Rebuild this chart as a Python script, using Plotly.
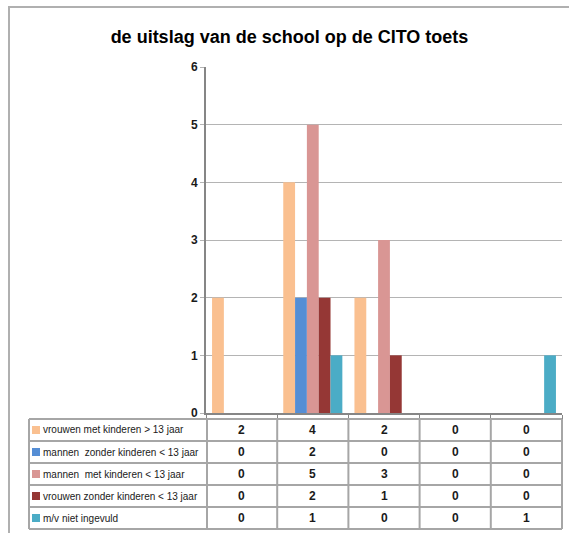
import plotly.graph_objects as go

# ---- data ----
categories = ["c1", "c2", "c3", "c4", "c5"]
series_names = [
    "vrouwen met kinderen > 13 jaar",
    "mannen  zonder kinderen < 13 jaar",
    "mannen  met kinderen < 13 jaar",
    "vrouwen zonder kinderen < 13 jaar",
    "m/v niet ingevuld",
]
vrouwen_met = [2, 4, 2, 0, 0]
mannen_zonder = [0, 2, 0, 0, 0]
mannen_met = [0, 5, 3, 0, 0]
vrouwen_zonder = [0, 2, 1, 0, 0]
mv_niet = [0, 1, 0, 0, 1]
series_values = [vrouwen_met, mannen_zonder, mannen_met, vrouwen_zonder, mv_niet]
colors = ["#FAC090", "#558ED5", "#D99694", "#953735", "#4BACC6"]
y_ticks = [0, 1, 2, 3, 4, 5, 6]
title_text = "de uitslag van de school op de CITO toets"

OFF = 0  # body margin removed via post_script
W, H = 569 - OFF, 533 - OFF
L_WIN, R_WIN, T_WIN, B_WIN = 206, 562, 67, 413
L = L_WIN - OFF
T = T_WIN - OFF
R = W - (R_WIN - OFF)
B = H - (B_WIN - OFF)
PW = W - L - R
PH = H - T - B
FONT = "Liberation Sans Narrow, Arial Narrow, Liberation Sans, sans-serif"


def px(xw):
    return (xw - OFF - L) / PW


def py(yw):
    return (H - B - (yw - OFF)) / PH


fig = go.Figure()
for name, vals, col in zip(series_names, series_values, colors):
    fig.add_trace(go.Bar(x=categories, y=vals, name=name, marker=dict(color=col, line=dict(width=0))))

shapes = []
annotations = []
grid = "#B4B4B4"
tgrid = "#A6A6A6"
axis_col = "#868686"

# outer chart border
shapes.append(dict(type="rect", xref="paper", yref="paper", x0=px(9), x1=px(590), y0=py(560), y1=py(7),
                   line=dict(color="#B0B0B0", width=2), layer="below"))

# table
row_edges = [419, 441, 463, 485, 507, 529]
col_edges = [29, 207] + [L_WIN + (R_WIN - L_WIN) * (i + 1) / len(categories) for i in range(len(categories))]
for ye in row_edges:
    shapes.append(dict(type="line", xref="paper", yref="paper", x0=px(col_edges[0]), x1=px(col_edges[-1]),
                       y0=py(ye), y1=py(ye), line=dict(color=tgrid, width=2)))
for xe in col_edges:
    shapes.append(dict(type="line", xref="paper", yref="paper", x0=px(xe), x1=px(xe),
                       y0=py(row_edges[0]), y1=py(row_edges[-1]), line=dict(color=tgrid, width=2)))

for r, (name, vals, col) in enumerate(zip(series_names, series_values, colors)):
    yc = (row_edges[r] + row_edges[r + 1]) / 2
    shapes.append(dict(type="rect", xref="paper", yref="paper", x0=px(32), x1=px(40),
                       y0=py(yc + 4), y1=py(yc - 4), fillcolor=col, line=dict(width=0)))
    annotations.append(dict(text=name, xref="paper", yref="paper", x=px(41), y=py(yc), xanchor="left",
                            yanchor="middle", showarrow=False, font=dict(family=FONT, size=10, color="#1a1a1a")))
    for c, v in enumerate(vals):
        annotations.append(dict(text="<b>%d</b>" % v, xref="x", yref="paper", x=c, y=py(yc),
                                xanchor="center", yanchor="middle", showarrow=False,
                                font=dict(family=FONT, size=12, color="#1a1a1a")))

fig.update_layout(
    width=W, height=H,
    margin=dict(l=L, r=R, t=T, b=B, autoexpand=False),
    paper_bgcolor="white", plot_bgcolor="white",
    barmode="group", bargap=0.17, bargroupgap=0,
    showlegend=False,
    title=dict(text="<b>%s</b>" % title_text, xref="container", x=(289.5 - OFF) / W, xanchor="center",
               yref="container", y=1 - (37 - OFF) / H, yanchor="middle",
               font=dict(family=FONT, size=18, color="#000000")),
    shapes=shapes, annotations=annotations,
    xaxis=dict(type="category", showticklabels=False, showgrid=False, showline=True, linecolor=axis_col,
               linewidth=2, ticks="outside", ticklen=5, tickcolor=axis_col, tickson="boundaries",
               range=[-0.5, len(categories) - 0.5]),
    yaxis=dict(range=[0, 6], tickvals=y_ticks, ticktext=["<b>%d</b>" % t for t in y_ticks],
               showgrid=True, gridcolor=grid, gridwidth=1, showline=True, linecolor=axis_col, linewidth=2,
               ticks="outside", ticklen=4, tickcolor=grid, zeroline=False,
               tickfont=dict(family=FONT, size=12, color="#1a1a1a")),
)

fig.write_html("out.html", config={"displayModeBar": False},
               post_script="document.body.style.margin='0';document.body.style.padding='0';")
